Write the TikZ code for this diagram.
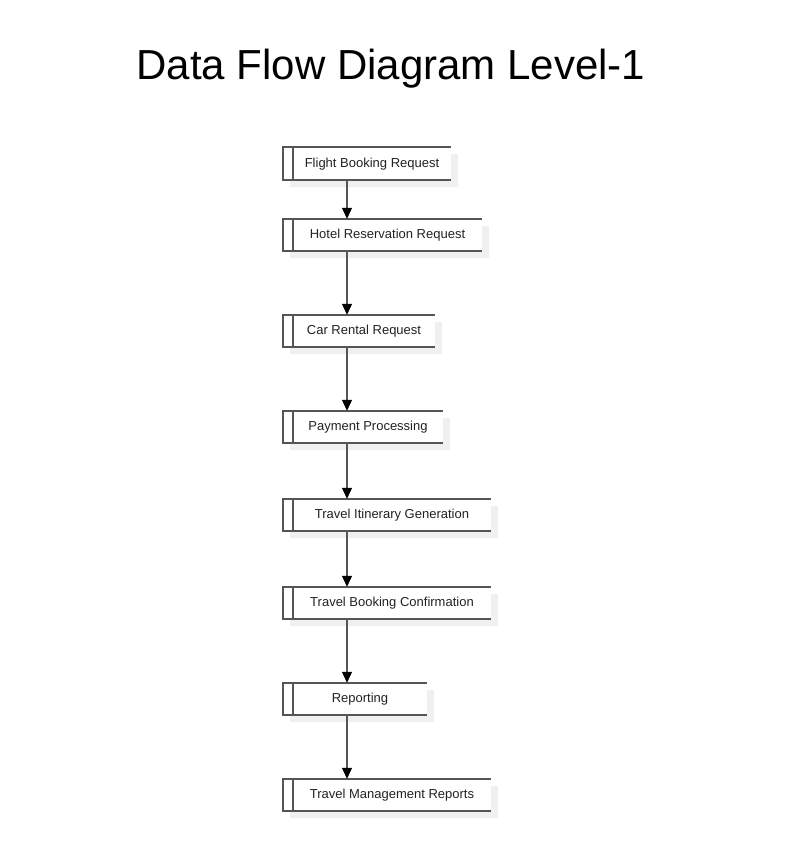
\documentclass[tikz,border=0pt]{standalone}
\usepackage{fontspec}
\setmainfont{Liberation Sans}
\usetikzlibrary{arrows.meta,backgrounds}
\definecolor{edgegray}{HTML}{555555}
\definecolor{shadegray}{HTML}{F0F0F0}
\definecolor{labelgray}{HTML}{222222}
\tikzset{
  storebox/.style={inner sep=0pt, fill=white, font=\fontsize{13}{15}\selectfont, text=labelgray},
  flow/.style={draw=edgegray, line width=1.2pt, -{Triangle[width=10pt,length=11pt,fill=black,color=black]}},
  outline/.style={draw=edgegray, line width=1.3pt},
}
% place a store box: name, right edge, top, bottom, label
\newcommand{\storeitem}[5]{%
  \node[storebox, minimum width={#2pt-293pt}, minimum height={#4pt-#3pt}, text depth=0pt, yshift=1pt]
    (#1) at ({(293+#2)/2},{(#3+#4)/2}) {#5};
  \begin{scope}[on background layer]
    \fill[shadegray] (290,#3+7) rectangle (#2+7,#4+7);
    \fill[white] (283,#3) rectangle (293,#4);
  \end{scope}
  \draw[outline] (#2,#3) -- (283,#3) -- (283,#4) -- (#2,#4);
  \draw[outline] (293,#3) -- (293,#4);
}
\begin{document}
\begin{tikzpicture}[x=1pt,y=-1pt]
  \useasboundingbox (0,0) rectangle (785,865);
  \node[font=\fontsize{42}{48}\selectfont] (title) at (391,69) {Data Flow Diagram Level-1};
  \coordinate (axis) at (347,0);
  \storeitem{flight}{451}{147}{180}{Flight Booking Request}
  \storeitem{hotel}{482}{219}{251}{Hotel Reservation Request}
  \storeitem{car}{435}{315}{347}{Car Rental Request}
  \storeitem{payment}{443}{411}{443}{Payment Processing}
  \storeitem{itinerary}{491}{499}{531}{Travel Itinerary Generation}
  \storeitem{confirm}{491}{587}{619}{Travel Booking Confirmation}
  \storeitem{reporting}{427}{683}{715}{Reporting}
  \storeitem{reports}{491}{779}{811}{Travel Management Reports}
  \draw[flow] ([yshift=-1pt]flight.south -| axis) -- ([yshift=-1pt]hotel.north -| axis);
  \draw[flow] ([yshift=-1pt]hotel.south -| axis) -- ([yshift=-1pt]car.north -| axis);
  \draw[flow] ([yshift=-1pt]car.south -| axis) -- ([yshift=-1pt]payment.north -| axis);
  \draw[flow] ([yshift=-1pt]payment.south -| axis) -- ([yshift=-1pt]itinerary.north -| axis);
  \draw[flow] ([yshift=-1pt]itinerary.south -| axis) -- ([yshift=-1pt]confirm.north -| axis);
  \draw[flow] ([yshift=-1pt]confirm.south -| axis) -- ([yshift=-1pt]reporting.north -| axis);
  \draw[flow] ([yshift=-1pt]reporting.south -| axis) -- ([yshift=-1pt]reports.north -| axis);
\end{tikzpicture}
\end{document}
